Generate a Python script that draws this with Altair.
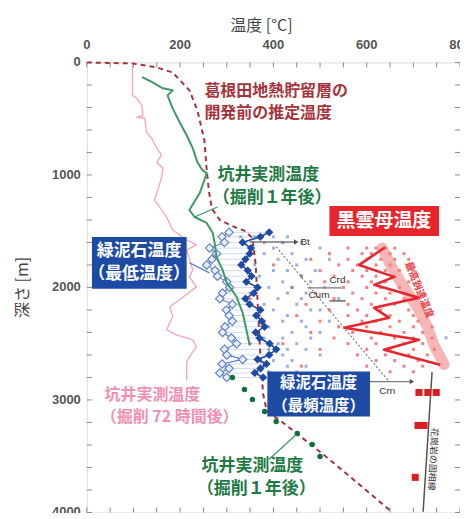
import altair as alt
import pandas as pd

W, H = 374, 451

# ---------------- data ----------------
# estimated pre-development temperature (dashed dark red)
est_T = [0, 98, 150, 184, 220, 237, 252, 257, 262, 268, 285, 315, 340, 355, 362, 367, 372, 378, 386, 420, 520, 652]
est_d = [0, 9, 44, 89, 248, 426, 691, 957, 1150, 1300, 1400, 1460, 1500, 1560, 1800, 2200, 2600, 2950, 3100, 3200, 3528, 3989]

# measured temperature 72 h after drilling (pink)
pink_T = [98, 98, 107, 118, 120, 107, 124, 128, 139, 150, 160, 150, 163, 160, 152, 145, 156, 171, 184, 214, 235, 214,
          227, 220, 235, 199, 178, 184, 171, 190, 227, 235, 220, 214, 214]
pink_d = [30, 293, 319, 381, 470, 488, 496, 621, 674, 762, 824, 887, 940, 1028, 1135, 1223, 1285, 1374, 1489, 1578,
          1622, 1667, 1844, 1906, 1995, 2110, 2172, 2261, 2376, 2420, 2465, 2527, 2615, 2668, 2819]

# measured temperature 1 year after drilling (green line)
green_T = [120, 141, 163, 184, 173, 184, 199, 214, 227, 237, 248, 257, 252, 242, 220, 231, 257, 270, 274, 278, 291,
           300, 321, 334, 342, 349]
green_d = [133, 177, 230, 248, 293, 408, 532, 647, 762, 887, 957, 984, 1046, 1161, 1312, 1374, 1427, 1516, 1605, 1729,
           1844, 1959, 2083, 2225, 2376, 2509]

# measured temperature 1 year after drilling (green dots, deep part)
gdot_T = [312, 338, 355, 381, 406, 451, 483, 500]
gdot_d = [2801, 2908, 2996, 3103, 3191, 3298, 3395, 3502]

# chlorite temperature: minimum (open diamonds) and mode (filled diamonds)
chl_d = [1510, 1550, 1600, 1650, 1700, 1750, 1800, 1850, 1900, 1950, 2000, 2050, 2100, 2150, 2200, 2250, 2300, 2350,
         2400, 2450, 2500, 2550, 2600, 2640, 2680, 2720, 2760, 2800]
chl_min = [305, 290, 295, 263, 278, 268, 257, 275, 280, 300, 306, 291, 285, 312, 299, 305, 312, 296, 291, 310, 321,
           295, 300, 334, 290, 305, 285, 300]
chl_mode = [391, 372, 334, 352, 349, 340, 331, 345, 353, 342, 366, 358, 340, 349, 372, 363, 375, 381, 362, 370, 392,
            406, 391, 366, 385, 372, 360, 378]

# small scatter: biotite (red) and chlorite (blue) single analyses
red_pts = [(560, 1650), (600, 1650), (620, 1650), (640, 1650), (660, 1650), (380, 1600), (420, 1600),
           (520, 1700), (590, 1700), (610, 1700), (650, 1700), (680, 1700),
           (480, 1750), (560, 1750), (600, 1750), (630, 1750), (660, 1750), (690, 1750),
           (330, 1800), (400, 1800), (540, 1800), (580, 1800), (620, 1800), (650, 1800),
           (500, 1850), (570, 1850), (600, 1850), (640, 1850), (670, 1850), (700, 1850),
           (460, 1900), (530, 1900), (590, 1900), (620, 1900), (660, 1900),
           (510, 1950), (560, 1950), (610, 1950), (640, 1950), (690, 1950),
           (440, 2000), (550, 2000), (600, 2000), (630, 2000), (670, 2000), (710, 2000),
           (490, 2050), (570, 2050), (620, 2050), (650, 2050),
           (350, 2100), (530, 2100), (590, 2100), (640, 2100), (680, 2100), (700, 2100),
           (470, 2150), (560, 2150), (610, 2150), (660, 2150), (720, 2150),
           (520, 2200), (580, 2200), (630, 2200), (690, 2200),
           (450, 2250), (560, 2250), (600, 2250), (650, 2250), (700, 2250), (730, 2250),
           (380, 2300), (500, 2300), (590, 2300), (620, 2300), (670, 2300), (710, 2300),
           (540, 2350), (600, 2350), (650, 2350), (700, 2350), (740, 2350),
           (480, 2400), (570, 2400), (630, 2400), (680, 2400), (720, 2400),
           (530, 2450), (610, 2450), (660, 2450), (700, 2450), (740, 2450),
           (350, 2500), (420, 2500), (560, 2500), (620, 2500), (680, 2500), (720, 2500),
           (500, 2550), (600, 2550), (650, 2550), (700, 2550), (745, 2550),
           (580, 2600), (640, 2600), (690, 2600), (730, 2600),
           (620, 2650), (660, 2650), (710, 2650),
           (380, 2700), (460, 2700), (600, 2700), (680, 2700), (720, 2700),
           (650, 2750), (700, 2750)]
blue_pts = [(330, 1550), (360, 1550), (400, 1550), (430, 1550), (420, 1600), (460, 1600),
            (350, 1650), (400, 1650), (500, 1650), (380, 1700), (440, 1700),
            (410, 1750), (470, 1750), (520, 1750), (360, 1800), (450, 1800),
            (400, 1850), (430, 1850), (490, 1850), (370, 1900), (460, 1900),
            (420, 1950), (480, 1950), (390, 2000), (440, 2000), (510, 2000),
            (350, 2050), (430, 2050), (470, 2050), (410, 2100), (460, 2100), (540, 2100),
            (380, 2150), (450, 2150), (400, 2200), (480, 2200), (500, 2200),
            (370, 2250), (430, 2250), (420, 2300), (460, 2300), (520, 2300),
            (390, 2350), (470, 2350), (440, 2400), (500, 2400),
            (380, 2450), (420, 2450), (480, 2450), (770, 2447), (410, 2500), (450, 2500),
            (390, 2550), (430, 2550), (470, 2550), (420, 2600), (500, 2600),
            (400, 2650), (440, 2650), (430, 2700), (470, 2700), (390, 2750), (450, 2750)]

# biotite temperature zigzag and maximum temperature band
bio_T = [637, 584, 659, 616, 712, 616, 648, 552, 712, 637, 755]
bio_d = [1649, 1800, 1906, 1977, 2092, 2181, 2270, 2358, 2465, 2553, 2686]
band_T = [633, 650, 670, 690, 712, 730, 744, 766]
band_d = [1649, 1790, 1933, 2060, 2199, 2350, 2509, 2686]

# red squares (deep) and granite line
sq_T = [712, 731, 749, 710, 723, 704]
sq_d = [2934, 2934, 2934, 3227, 3227, 3688]
gran_T = [740, 721]
gran_d = [2757, 3990]

x_ticks = [0, 50, 100, 150, 200, 250, 300, 350, 400, 450, 500, 550, 600, 650, 700, 750, 800]
y_ticks = [0, 200, 400, 600, 800, 1000, 1200, 1400, 1600, 1800, 2000, 2200, 2400, 2600, 2800, 3000,
           3200, 3400, 3600, 3800, 4000]
x_labels = [0, 200, 400, 600, 800]
y_labels = [0, 1000, 2000, 3000, 4000]

# ---------------- helpers ----------------
JP = "Noto Sans CJK JP"
xs = alt.Scale(domain=[0, 800], nice=False, zero=False)
ys = alt.Scale(domain=[0, 4000], reverse=True, nice=False, zero=False)
one = pd.DataFrame({"k": [0]})


def X(f="T"):
    return alt.X(f + ":Q", scale=xs, axis=None)


def Y(f="d"):
    return alt.Y(f + ":Q", scale=ys, axis=None)


def df(T, d):
    return pd.DataFrame({"T": T, "d": d, "o": list(range(len(T)))})


def line(T, d, color, width=2, dash=None, opacity=1.0, cap="round"):
    kw = dict(color=color, strokeWidth=width, opacity=opacity, strokeCap=cap, strokeJoin="round")
    if dash:
        kw["strokeDash"] = dash
    return alt.Chart(df(T, d)).mark_line(**kw).encode(x=X(), y=Y(), order="o:Q")


def txt(s, T, d, color, size=17, align="left", weight="bold", angle=0, font=JP):
    return alt.Chart(one).mark_text(text=s, align=align, baseline="middle", color=color, fontSize=size,
                                    fontWeight=weight, font=font, angle=angle).encode(
        x=alt.XDatum(T, axis=None), y=alt.YDatum(d, axis=None))


def seg(T1, d1, T2, d2, color, width=1.2, dash=None):
    kw = dict(color=color, strokeWidth=width)
    if dash:
        kw["strokeDash"] = dash
    return alt.Chart(one).mark_rule(**kw).encode(
        x=alt.XDatum(T1, axis=None), y=alt.YDatum(d1, axis=None),
        x2=alt.X2Datum(T2), y2=alt.Y2Datum(d2))


def box(T1, T2, d1, d2, color):
    return alt.Chart(one).mark_rect(color=color).encode(
        x=alt.XDatum(T1, axis=None), x2=alt.X2Datum(T2),
        y=alt.YDatum(d1, axis=None), y2=alt.Y2Datum(d2))


def arrowhead(T, d, color):
    return alt.Chart(one).mark_point(shape="triangle-right", filled=True, size=28, color=color, opacity=1).encode(
        x=alt.XDatum(T, axis=None), y=alt.YDatum(d, axis=None))


# ---------------- axis labels, titles and inner ticks (drawn as marks) ----------------
LAB = dict(font="Liberation Sans", fontSize=13, fontWeight="bold", color="#555")
axis_layers = [
    alt.Chart(pd.DataFrame({"T": x_labels})).mark_text(align="center", baseline="middle", **LAB).encode(
        x=X(), y=alt.value(-17), text=alt.Text("T:Q", format="d")),
    alt.Chart(pd.DataFrame({"d": y_labels})).mark_text(align="right", baseline="middle", **LAB).encode(
        x=alt.value(-6), y=Y(), text=alt.Text("d:Q", format="d")),
    alt.Chart(one).mark_text(text="温度 [°C]", align="center", baseline="middle", font=JP, fontSize=16,
                             color="#444").encode(x=alt.value(W / 2 - 12), y=alt.value(-37)),
    alt.Chart(one).mark_text(text="深さ [m]", align="center", baseline="middle", font=JP, fontSize=16,
                             color="#444", angle=270).encode(x=alt.value(-64), y=alt.value(H / 2)),
]

tick_col = "#8a8a8a"
xt = pd.DataFrame({"T": x_ticks})
yt = pd.DataFrame({"d": y_ticks})
ticks = [
    alt.Chart(xt).mark_rule(color=tick_col, strokeWidth=1).encode(x=X(), y=alt.value(0), y2=alt.value(5)),
    alt.Chart(xt).mark_rule(color=tick_col, strokeWidth=1).encode(x=X(), y=alt.value(H), y2=alt.value(H - 5)),
    alt.Chart(yt).mark_rule(color=tick_col, strokeWidth=1).encode(y=Y(), x=alt.value(0), x2=alt.value(5)),
    alt.Chart(yt).mark_rule(color=tick_col, strokeWidth=1).encode(y=Y(), x=alt.value(W), x2=alt.value(W - 5)),
]

# ---------------- data layers ----------------
DARKRED = "#a8323a"
GREEN = "#3f9a63"
GREEN_TXT = "#1f7a44"
PINK = "#f6a3bd"
PINK_TXT = "#f28fb0"
BLUE = "#1d4ba3"
LBLUE = "#5f82c8"
RED = "#e6262c"
GREY = "#7a7a7a"

red_df = pd.DataFrame(red_pts, columns=["T", "d"])
blue_df = pd.DataFrame(blue_pts, columns=["T", "d"])
chl = pd.DataFrame({"d": chl_d, "tmin": chl_min, "tmode": chl_mode})
chl["o"] = list(range(len(chl)))

layers = ticks + [
    line(pink_T, pink_d, PINK, width=1.3),
    alt.Chart(red_df).mark_square(size=9, color="#f04a4a", opacity=0.7).encode(x=X(), y=Y()),
    alt.Chart(blue_df).mark_square(size=9, color="#5b78cf", opacity=0.6).encode(x=X(), y=Y()),
    line(band_T, band_d, "#f07a7a", width=11, opacity=0.55),
    line(bio_T, bio_d, RED, width=2.6),
    line(est_T, est_d, DARKRED, width=2, dash=[5, 4], cap="butt"),
    # chlorite
    alt.Chart(chl).mark_rule(color=LBLUE, strokeWidth=1, opacity=0.3).encode(x=X("tmin"), x2="tmode:Q", y=Y()),
    alt.Chart(chl).mark_line(color=LBLUE, strokeWidth=1.2).encode(x=X("tmin"), y=Y(), order="o:Q"),
    alt.Chart(chl).mark_line(color=BLUE, strokeWidth=1.6).encode(x=X("tmode"), y=Y(), order="o:Q"),
    alt.Chart(chl).mark_point(shape="diamond", size=70, filled=True, fill="#e8eefa", stroke=LBLUE,
                              strokeWidth=1.2, opacity=1).encode(x=X("tmin"), y=Y()),
    alt.Chart(chl).mark_point(shape="diamond", size=70, filled=True, color=BLUE, opacity=1).encode(
        x=X("tmode"), y=Y()),
    line(green_T, green_d, GREEN, width=2),
    alt.Chart(df(gdot_T, gdot_d)).mark_circle(size=30, color="#11703a", opacity=1).encode(x=X(), y=Y()),
    # granite line and red squares
    line(gran_T, gran_d, "#555555", width=1.5),
    alt.Chart(df(sq_T, sq_d)).mark_square(size=50, color="#d91f24", opacity=1).encode(x=X(), y=Y()),
    # mineral arrows
    seg(349, 1596, 446, 1596, GREY, width=1.3),
    arrowhead(449, 1596, "#555"),
    seg(406, 1640, 648, 2837, GREY, width=1.2, dash=[2, 2]),
    seg(473, 2004, 546, 2004, GREY, width=1.3),
    seg(605, 2837, 693, 2837, GREY, width=1.3),
    arrowhead(697, 2837, "#555"),
    seg(520, 2120, 555, 2120, "#222", width=1),
    txt("Bt", 458, 1596, "#333", size=10, weight="normal", font="Liberation Sans"),
    txt("Crd", 520, 1935, "#333", size=10, weight="normal", font="Liberation Sans"),
    txt("Cum", 475, 2066, "#333", size=10, weight="normal", font="Liberation Sans"),
    txt("Crn", 644, 2920, "#333", size=10, weight="normal", font="Liberation Sans", align="center"),
    # leader lines
    seg(280, 1285, 231, 1374, GREEN, width=1.3),
    seg(220, 1782, 263, 1870, LBLUE, width=1.3),
    seg(391, 3528, 449, 3307, GREEN, width=1.3),
    # boxes
    box(520, 755, 1277, 1543, RED),
    box(11, 214, 1551, 2012, BLUE),
    box(387, 607, 2748, 3147, BLUE),
    # texts
    txt("葛根田地熱貯留層の", 252, 257, DARKRED, size=16),
    txt("開発前の推定温度", 252, 452, DARKRED, size=16),
    txt("坑井実測温度", 280, 1002, GREEN_TXT, size=17),
    txt("（掘削１年後）", 270, 1206, GREEN_TXT, size=17),
    txt("黒雲母温度", 637, 1410, "white", size=19, align="center"),
    txt("緑泥石温度", 112, 1676, "white", size=17, align="center"),
    txt("（最低温度）", 112, 1885, "white", size=17, align="center"),
    txt("緑泥石温度", 497, 2852, "white", size=15.5, align="center"),
    txt("（最頻温度）", 497, 3055, "white", size=15.5, align="center"),
    txt("坑井実測温度", 38, 2958, PINK_TXT, size=16),
    txt("（掘削 72 時間後）", 30, 3150, PINK_TXT, size=16),
    txt("坑井実測温度", 246, 3590, GREEN_TXT, size=17),
    txt("（掘削１年後）", 236, 3794, GREEN_TXT, size=17),
    txt("最高到達温度", 712, 2021, "#e8424a", size=10, align="center", angle=68),
    txt("花崗岩の固相線", 742, 3528, "#333", size=9, align="center", angle=93, weight="normal"),
] + axis_layers

chart = alt.layer(*layers).properties(
    width=W, height=H,
    autosize=alt.AutoSizeParams(type="none"),
    padding={"left": 79, "top": 54, "right": 0, "bottom": 0},
).configure_view(stroke="#8f8f8f", strokeWidth=1.5).configure(background="white")

chart.save("out.html", embed_options={"renderer": "svg", "actions": False})
